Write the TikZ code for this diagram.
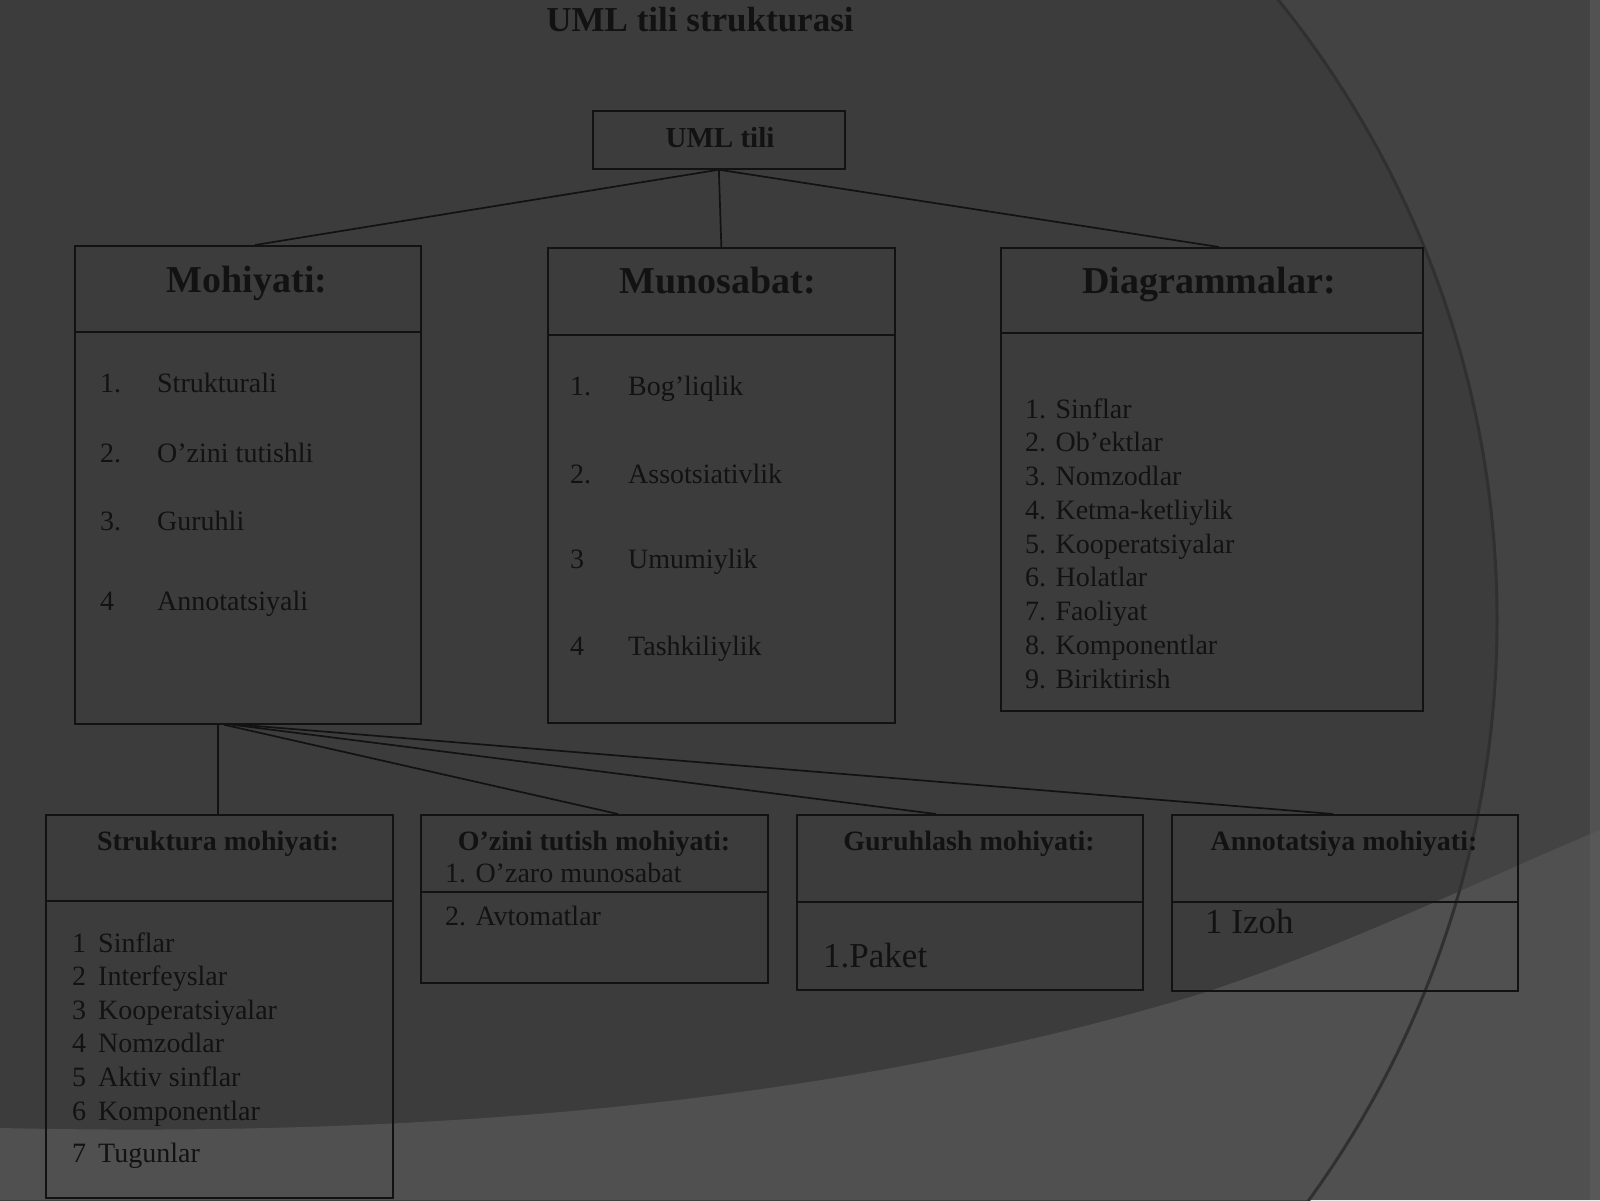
\documentclass[tikz,border=0pt]{standalone}
\usepackage{fontspec}
\setmainfont{Liberation Serif}
\usetikzlibrary{calc}
\definecolor{bgmain}{HTML}{3C3C3C}
\definecolor{bgouter}{HTML}{434343}
\definecolor{bglow}{HTML}{505050}
\definecolor{ringcol}{HTML}{303030}
\definecolor{inkcol}{HTML}{121212}
\tikzset{
  boxshape/.style={draw=inkcol, line width=1.7pt, inner sep=0pt, anchor=north west},
  divline/.style={draw=inkcol, line width=1.7pt},
  conn/.style={draw=inkcol, line width=1.7pt},
  bighdr/.style={font=\fontsize{38}{44}\selectfont\bfseries, text=inkcol, anchor=base, inner sep=0pt},
  smallhdr/.style={font=\fontsize{28}{34}\selectfont\bfseries, text=inkcol, anchor=base, inner sep=0pt},
  itemtxt/.style={font=\fontsize{28}{34}\selectfont, text=inkcol, anchor=base west, inner sep=0pt},
  bigitem/.style={font=\fontsize{35}{40}\selectfont, text=inkcol, anchor=base west, inner sep=0pt},
}
\begin{document}
\begin{tikzpicture}[x=1pt,y=-1pt]
\useasboundingbox (0,0) rectangle (1600,1200);
% background
\fill[bgouter] (0,0) rectangle (1600,1200);
\fill[bgmain] (509,620) circle (988);
\fill[bglow] (0,1128) .. controls (450,1138) and (850,1100) .. (1200,994) .. controls (1350,945) and (1480,880) .. (1600,830) -- (1600,1200) -- (0,1200) -- cycle;
\draw[ringcol, line width=3pt] (509,620) circle (988);
\fill[bglow!90!white, opacity=0.5] (1590,0) rectangle (1600,1200);

% title
\node[font=\fontsize{35}{40}\selectfont\bfseries, text=inkcol, anchor=base, inner sep=0pt] (title) at (700,31) {UML tili strukturasi};

% root
\node[boxshape, minimum width=252pt, minimum height=58pt] (uml) at (592,110) {};
\node[font=\fontsize{29}{34}\selectfont\bfseries, text=inkcol, anchor=base, inner sep=0pt] (umlT) at (720,147) {UML tili};

% top boxes
\node[boxshape, minimum width=346pt, minimum height=478pt] (moh) at (74,245) {};
\draw[divline] ($(moh.north west)+(0,87)$) -- ($(moh.north east)+(0,87)$);
\node[bighdr] (mohH) at (247,292) {Mohiyati:};
\node[itemtxt] (m1) at (100,392) {\makebox[57pt][l]{1.}Strukturali};
\node[itemtxt] (m2) at (100,462) {\makebox[57pt][l]{2.}O’zini tutishli};
\node[itemtxt] (m3) at (100,530) {\makebox[57pt][l]{3.}Guruhli};
\node[itemtxt] (m4) at (100,610) {\makebox[57pt][l]{4}Annotatsiyali};

\node[boxshape, minimum width=347pt, minimum height=475pt] (mun) at (547,247) {};
\draw[divline] ($(mun.north west)+(0,88)$) -- ($(mun.north east)+(0,88)$);
\node[bighdr] (munH) at (718,293) {Munosabat:};
\node[itemtxt] (n1) at (570,395) {\makebox[58pt][l]{1.}Bog’liqlik};
\node[itemtxt] (n2) at (570,483) {\makebox[58pt][l]{2.}Assotsiativlik};
\node[itemtxt] (n3) at (570,568) {\makebox[58pt][l]{3}Umumiylik};
\node[itemtxt] (n4) at (570,655) {\makebox[58pt][l]{4}Tashkiliylik};

\node[boxshape, minimum width=422pt, minimum height=463pt] (dia) at (1000,247) {};
\draw[divline] ($(dia.north west)+(0,86)$) -- ($(dia.north east)+(0,86)$);
\node[bighdr] (diaH) at (1209,293) {Diagrammalar:};
\foreach \t [count=\i] in {Sinflar,Ob’ektlar,Nomzodlar,Ketma-ketliylik,Kooperatsiyalar,Holatlar,Faoliyat,Komponentlar,Biriktirish}
  \node[itemtxt, name=d\i] at (1025,{418+33.75*(\i-1)}) {\i. \t};

% bottom boxes
\node[boxshape, minimum width=347pt, minimum height=383pt] (str) at (45,814) {};
\draw[divline] ($(str.north west)+(0,87)$) -- ($(str.north east)+(0,87)$);
\node[smallhdr] (strH) at (218,850) {Struktura mohiyati:};
\foreach \t [count=\i] in {Sinflar,Interfeyslar,Kooperatsiyalar,Nomzodlar,Aktiv sinflar,Komponentlar}
  \node[itemtxt, name=s\i] at (72,{952+33.6*(\i-1)}) {\makebox[26pt][l]{\i}\t};
\node[itemtxt] (s7) at (72,1162) {\makebox[26pt][l]{7}Tugunlar};

\node[boxshape, minimum width=347pt, minimum height=168pt] (ozi) at (420,814) {};
\draw[divline] ($(ozi.north west)+(0,78)$) -- ($(ozi.north east)+(0,78)$);
\node[smallhdr] (oziH) at (594,850) {O’zini tutish mohiyati:};
\node[itemtxt] (o1) at (445,882) {1. O’zaro munosabat};
\node[itemtxt] (o2) at (445,925) {2. Avtomatlar};

\node[boxshape, minimum width=346pt, minimum height=175pt] (gur) at (796,814) {};
\draw[divline] ($(gur.north west)+(0,88)$) -- ($(gur.north east)+(0,88)$);
\node[smallhdr] (gurH) at (969,850) {Guruhlash mohiyati:};
\node[bigitem] (g1) at (823,967) {1.Paket};

\node[boxshape, minimum width=346pt, minimum height=176pt] (ann) at (1171,814) {};
\draw[divline] ($(ann.north west)+(0,88)$) -- ($(ann.north east)+(0,88)$);
\node[smallhdr] (annH) at (1344,850) {Annotatsiya mohiyati:};
\node[bigitem] (a1) at (1205,933) {1 Izoh};

% connectors
\draw[conn] (uml.south) -- ($(moh.north west)+(181,0)$);
\draw[conn] (uml.south) -- (mun.north);
\draw[conn] (uml.south) -- ($(dia.north west)+(219,0)$);
\draw[conn] ($(moh.south west)+(144,0)$) -- ($(str.north west)+(173,0)$);
\draw[conn] ($(moh.south west)+(150,0)$) -- ($(ozi.north west)+(198,0)$);
\draw[conn] ($(moh.south west)+(158,0)$) -- ($(gur.north west)+(140,0)$);
\draw[conn] ($(moh.south west)+(166,0)$) -- ($(ann.north west)+(162,0)$);
\end{tikzpicture}
\end{document}
